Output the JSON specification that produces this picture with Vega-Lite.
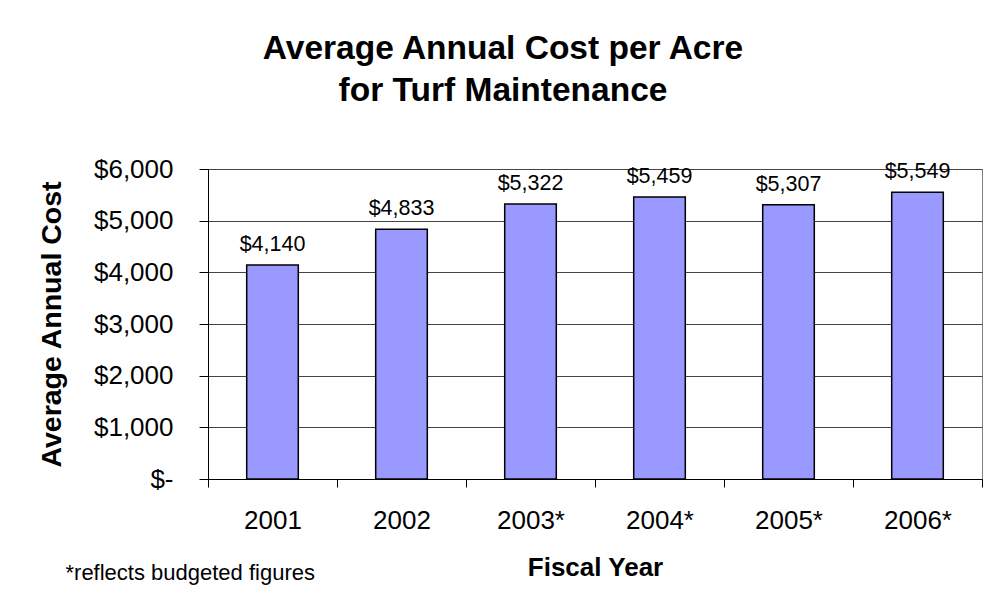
{
  "$schema": "https://vega.github.io/schema/vega-lite/v6.json",
  "width": 774,
  "height": 310,
  "autosize": {"type": "none"},
  "padding": {"left": 208, "top": 169, "right": 20, "bottom": 130},
  "background": "white",
  "title": {
    "text": ["Average Annual Cost per Acre", "for Turf Maintenance"],
    "font": "Liberation Sans",
    "fontSize": 33.5,
    "fontWeight": "bold",
    "lineHeight": 42,
    "anchor": "middle",
    "frame": "group",
    "baseline": "alphabetic",
    "dx": -92,
    "offset": 22,
    "color": "#000"
  },
  "data": {
    "values": [
      {"year": "2001", "cost": 4140},
      {"year": "2002", "cost": 4833},
      {"year": "2003*", "cost": 5322},
      {"year": "2004*", "cost": 5459},
      {"year": "2005*", "cost": 5307},
      {"year": "2006*", "cost": 5549}
    ]
  },
  "layer": [
    {
      "mark": {"type": "bar", "fill": "#9999FF", "stroke": "#000", "strokeWidth": 1.5, "width": {"band": 0.4}},
      "encoding": {
        "x": {
          "field": "year", "type": "nominal", "sort": null,
          "scale": {"paddingInner": 0, "paddingOuter": 0},
          "axis": {
            "orient": "bottom",
            "title": "Fiscal Year",
            "titleFontSize": 26,
            "titleFontWeight": "bold",
            "titleX": 387,
            "titleY": 96,
            "titleAlign": "center",
            "titleBaseline": "alphabetic",
            "labelAngle": 0,
            "labelFontSize": 26,
            "labelBaseline": "alphabetic",
            "labelPadding": 41,
            "tickSize": 8,
            "tickBand": "extent",
            "tickColor": "#000",
            "domainColor": "#000",
            "grid": false
          }
        },
        "y": {
          "field": "cost", "type": "quantitative",
          "scale": {"domain": [0, 6000], "nice": false},
          "axis": {
            "title": "Average Annual Cost",
            "titleFontSize": 28.5,
            "titleFontWeight": "bold",
            "titleAngle": -90,
            "titleX": -148,
            "titleY": 155,
            "titleAlign": "center",
            "titleBaseline": "alphabetic",
            "values": [0, 1000, 2000, 3000, 4000, 5000, 6000],
            "labelExpr": "datum.value == 0 ? '$-' : '$' + format(datum.value, ',')",
            "labelFontSize": 26,
            "labelPadding": 26,
            "tickSize": 9,
            "tickColor": "#000",
            "domainColor": "#000",
            "grid": true,
            "gridColor": "#444"
          }
        }
      }
    },
    {
      "mark": {"type": "text", "dy": -14, "baseline": "alphabetic", "fontSize": 21.5, "font": "Liberation Sans", "color": "#000"},
      "encoding": {
        "x": {
          "field": "year", "type": "nominal", "sort": null,
          "scale": {"paddingInner": 0, "paddingOuter": 0},
          "axis": {
            "orient": "bottom",
            "title": "*reflects budgeted figures",
            "titleFontSize": 22,
            "titleFontWeight": "normal",
            "titleX": -143,
            "titleY": 100,
            "titleAlign": "left",
            "titleBaseline": "alphabetic",
            "labels": false,
            "ticks": false,
            "domain": false,
            "grid": false
          }
        },
        "y": {
          "field": "cost", "type": "quantitative",
          "scale": {"domain": [0, 6000], "nice": false},
          "axis": {
            "title": "Average Annual Cost",
            "titleFontSize": 28.5,
            "titleFontWeight": "bold",
            "titleAngle": -90,
            "titleX": -148,
            "titleY": 155,
            "titleAlign": "center",
            "titleBaseline": "alphabetic",
            "values": [0, 1000, 2000, 3000, 4000, 5000, 6000],
            "labelExpr": "datum.value == 0 ? '$-' : '$' + format(datum.value, ',')",
            "labelFontSize": 26,
            "labelPadding": 26,
            "tickSize": 9,
            "tickColor": "#000",
            "domainColor": "#000",
            "grid": true,
            "gridColor": "#444"
          }
        },
        "text": {"field": "cost", "type": "quantitative", "format": "$,"}
      }
    }
  ],
  "resolve": {"axis": {"x": "independent"}},
  "config": {
    "font": "Liberation Sans",
    "view": {"stroke": "#808080"},
    "axis": {"labelFont": "Liberation Sans", "titleFont": "Liberation Sans", "labelColor": "#000", "titleColor": "#000"}
  }
}
